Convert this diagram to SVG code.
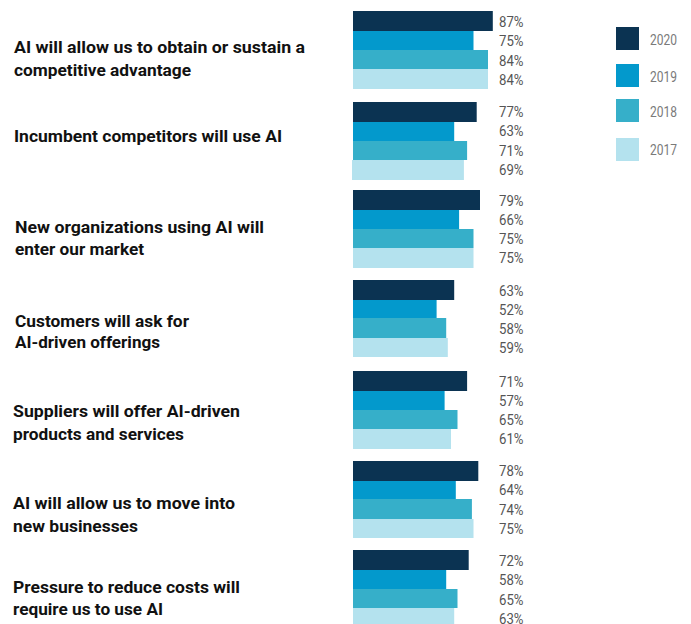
<svg xmlns="http://www.w3.org/2000/svg" width="691" height="624" viewBox="0 0 691 624">
<style>
.cat{font-family:Roboto,"Liberation Sans",sans-serif;font-weight:bold;font-size:16.5px;fill:#111}
.pct{font-family:Roboto,"Liberation Sans",sans-serif;font-size:14px;fill:#555}
.leg{font-family:Roboto,"Liberation Sans",sans-serif;font-size:14px;fill:#7a7a7a}
.c20{fill:#0b3352}.c19{fill:#0399cc}.c18{fill:#36afc9}.c17{fill:#b4e2ee}
</style>
<rect width="691" height="624" fill="#fff"/>
<g id="legend">
<rect class="c20" x="616" y="27" width="23" height="23"/><text class="leg" x="650" y="45" textLength="27" lengthAdjust="spacingAndGlyphs">2020</text>
<rect class="c19" x="616" y="64" width="23" height="23"/><text class="leg" x="650" y="82" textLength="27" lengthAdjust="spacingAndGlyphs">2019</text>
<rect class="c18" x="616" y="99" width="23" height="23"/><text class="leg" x="650" y="117" textLength="27" lengthAdjust="spacingAndGlyphs">2018</text>
<rect class="c17" x="616" y="138" width="23" height="23"/><text class="leg" x="650" y="155" textLength="27" lengthAdjust="spacingAndGlyphs">2017</text>
</g>
<g id="g1">
<text class="cat" x="14" y="53" textLength="291" lengthAdjust="spacingAndGlyphs">AI will allow us to obtain or sustain a</text>
<text class="cat" x="14" y="75.5" textLength="177" lengthAdjust="spacingAndGlyphs">competitive advantage</text>
<g transform="translate(0,11)">
<rect class="c20" x="353" y="0" width="139.8" height="20"/>
<rect class="c19" x="353" y="20" width="120.5" height="19"/>
<rect class="c18" x="353" y="39" width="135" height="19"/>
<rect class="c17" x="353" y="58" width="135" height="20"/>
<text class="pct" x="499" y="16" textLength="24.5" lengthAdjust="spacingAndGlyphs">87%</text>
<text class="pct" x="499" y="35" textLength="24.5" lengthAdjust="spacingAndGlyphs">75%</text>
<text class="pct" x="499" y="54.5" textLength="24.5" lengthAdjust="spacingAndGlyphs">84%</text>
<text class="pct" x="499" y="73.5" textLength="24.5" lengthAdjust="spacingAndGlyphs">84%</text>
</g>
</g>
<g id="g2">
<text class="cat" x="14" y="141.5" textLength="268" lengthAdjust="spacingAndGlyphs">Incumbent competitors will use AI</text>
<g transform="translate(0,102)">
<rect class="c20" x="353" y="0" width="123.7" height="20"/>
<rect class="c19" x="353" y="20" width="101.2" height="19"/>
<rect class="c18" x="353" y="39" width="114.1" height="19"/>
<rect class="c17" x="352" y="58" width="111.9" height="20"/>
<text class="pct" x="499" y="15" textLength="24.5" lengthAdjust="spacingAndGlyphs">77%</text>
<text class="pct" x="499" y="34" textLength="24.5" lengthAdjust="spacingAndGlyphs">63%</text>
<text class="pct" x="499" y="53.5" textLength="24.5" lengthAdjust="spacingAndGlyphs">71%</text>
<text class="pct" x="499" y="72.5" textLength="24.5" lengthAdjust="spacingAndGlyphs">69%</text>
</g>
</g>
<g id="g3">
<text class="cat" x="15" y="233" textLength="249" lengthAdjust="spacingAndGlyphs">New organizations using AI will</text>
<text class="cat" x="15" y="255" textLength="129" lengthAdjust="spacingAndGlyphs">enter our market</text>
<g transform="translate(0,190)">
<rect class="c20" x="353" y="0" width="127" height="20"/>
<rect class="c19" x="353" y="20" width="106.1" height="19"/>
<rect class="c18" x="353" y="39" width="120.5" height="19"/>
<rect class="c17" x="353" y="58" width="120.5" height="20"/>
<text class="pct" x="499" y="15.5" textLength="24.5" lengthAdjust="spacingAndGlyphs">79%</text>
<text class="pct" x="499" y="34.5" textLength="24.5" lengthAdjust="spacingAndGlyphs">66%</text>
<text class="pct" x="499" y="54" textLength="24.5" lengthAdjust="spacingAndGlyphs">75%</text>
<text class="pct" x="499" y="73" textLength="24.5" lengthAdjust="spacingAndGlyphs">75%</text>
</g>
</g>
<g id="g4">
<text class="cat" x="15" y="326.5" textLength="174" lengthAdjust="spacingAndGlyphs">Customers will ask for</text>
<text class="cat" x="15" y="348" textLength="145" lengthAdjust="spacingAndGlyphs">AI-driven offerings</text>
<g transform="translate(0,280)">
<rect class="c20" x="353" y="0" width="101.2" height="20"/>
<rect class="c19" x="353" y="20" width="83.6" height="19"/>
<rect class="c18" x="353" y="38" width="93.2" height="20"/>
<rect class="c17" x="353" y="58" width="94.8" height="19"/>
<text class="pct" x="499" y="15.5" textLength="24.5" lengthAdjust="spacingAndGlyphs">63%</text>
<text class="pct" x="499" y="34.5" textLength="24.5" lengthAdjust="spacingAndGlyphs">52%</text>
<text class="pct" x="499" y="54" textLength="24.5" lengthAdjust="spacingAndGlyphs">58%</text>
<text class="pct" x="499" y="73" textLength="24.5" lengthAdjust="spacingAndGlyphs">59%</text>
</g>
</g>
<g id="g5">
<text class="cat" x="13" y="416.5" textLength="227" lengthAdjust="spacingAndGlyphs">Suppliers will offer AI-driven</text>
<text class="cat" x="13" y="439.5" textLength="171" lengthAdjust="spacingAndGlyphs">products and services</text>
<g transform="translate(0,371)">
<rect class="c20" x="353" y="0" width="114.1" height="20"/>
<rect class="c19" x="353" y="20" width="91.6" height="19"/>
<rect class="c18" x="353" y="39" width="104.5" height="19"/>
<rect class="c17" x="353" y="58" width="98" height="20"/>
<text class="pct" x="499" y="15.5" textLength="24.5" lengthAdjust="spacingAndGlyphs">71%</text>
<text class="pct" x="499" y="34.5" textLength="24.5" lengthAdjust="spacingAndGlyphs">57%</text>
<text class="pct" x="499" y="54" textLength="24.5" lengthAdjust="spacingAndGlyphs">65%</text>
<text class="pct" x="499" y="73" textLength="24.5" lengthAdjust="spacingAndGlyphs">61%</text>
</g>
</g>
<g id="g6">
<text class="cat" x="13" y="509" textLength="222" lengthAdjust="spacingAndGlyphs">AI will allow us to move into</text>
<text class="cat" x="13" y="531.5" textLength="125" lengthAdjust="spacingAndGlyphs">new businesses</text>
<g transform="translate(0,461)">
<rect class="c20" x="353" y="0" width="125.3" height="20"/>
<rect class="c19" x="353" y="20" width="102.8" height="19"/>
<rect class="c18" x="353" y="38" width="118.9" height="20"/>
<rect class="c17" x="353" y="58" width="120.5" height="19"/>
<text class="pct" x="499" y="15" textLength="24.5" lengthAdjust="spacingAndGlyphs">78%</text>
<text class="pct" x="499" y="34" textLength="24.5" lengthAdjust="spacingAndGlyphs">64%</text>
<text class="pct" x="499" y="53.5" textLength="24.5" lengthAdjust="spacingAndGlyphs">74%</text>
<text class="pct" x="499" y="72.5" textLength="24.5" lengthAdjust="spacingAndGlyphs">75%</text>
</g>
</g>
<g id="g7">
<text class="cat" x="13" y="593" textLength="227" lengthAdjust="spacingAndGlyphs">Pressure to reduce costs will</text>
<text class="cat" x="13" y="615" textLength="150" lengthAdjust="spacingAndGlyphs">require us to use AI</text>
<g transform="translate(0,550)">
<rect class="c20" x="353" y="0" width="115.7" height="20"/>
<rect class="c19" x="353" y="20" width="93.2" height="19"/>
<rect class="c18" x="353" y="39" width="104.5" height="19"/>
<rect class="c17" x="353" y="58" width="101.2" height="20"/>
<text class="pct" x="499" y="15.5" textLength="24.5" lengthAdjust="spacingAndGlyphs">72%</text>
<text class="pct" x="499" y="35" textLength="24.5" lengthAdjust="spacingAndGlyphs">58%</text>
<text class="pct" x="499" y="54.5" textLength="24.5" lengthAdjust="spacingAndGlyphs">65%</text>
<text class="pct" x="499" y="74" textLength="24.5" lengthAdjust="spacingAndGlyphs">63%</text>
</g>
</g>
</svg>
